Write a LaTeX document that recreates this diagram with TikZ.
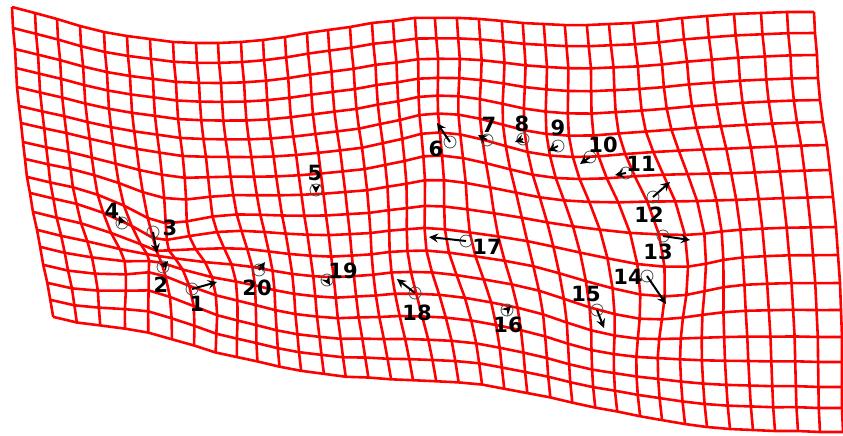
\documentclass[tikz,border=0pt]{standalone}
\usepackage{fontspec}
\setsansfont{DejaVu Sans}

% boundary of the warped grid, sampled at the grid nodes
\def\Tx{{12,35,57,80,104,127,150,173,196,218,241,263,285,307,328,350,372,393,415,435,457,479,502,523,544,565,587,609,633,657,682,707,734,761,787,814}}
\def\Ty{{7,13,19,26,32,36,39,42,43,43,42,40,37,33,30,27,23,21,18,18,18,19,21,23,24,25,25,24,23,21,18,16,14,13,12,12}}
\def\Bx{{53,76,98,121,143,166,188,211,234,256,279,301,324,346,369,392,414,437,459,482,504,527,550,572,595,617,640,662,685,707,730,753,775,798,820,843}}
\def\By{{317,323,327,332,337,343,348,354,358,362,367,371,374,377,378,380,381,382,383,385,389,393,397,402,407,411,416,420,424,427,429,430,431,431,432,432}}
\def\Lx{{12,13,15,16,17,19,21,23,25,27,30,33,37,40,43,47,50,53}}
\def\Ly{{7,28,49,68,87,106,123,142,159,177,193,212,230,247,265,283,300,317}}
\def\Rx{{814,815,817,818,820,823,827,830,833,836,838,840,841,842,842,842,842,843}}
\def\Ry{{12,33,55,78,100,122,145,170,197,227,255,283,310,337,362,387,408,432}}

\begin{document}
\begin{tikzpicture}[x=0.5pt,y=-0.5pt,
    gridline/.style={red,line width=1.3pt,line join=round},
    lmk/.style={circle,draw=black!70,line width=0.4pt,inner sep=0pt,minimum size=6pt},
    vec/.style={-stealth,line width=1pt},
    lbl/.style={font=\sffamily\bfseries\fontsize{10.5}{12}\selectfont,inner sep=0pt}]
  \useasboundingbox (0,0) rectangle (843,435);
  % grid nodes: Coons patch of the boundary, pulled along the landmark vectors
  \foreach \i in {0,...,35} {
    \foreach \j in {0,...,17} {
      \pgfmathsetmacro\su{\i/35}
      \pgfmathsetmacro\tv{\j/17}
      \pgfmathsetmacro\tx{\Tx[\i]}
      \pgfmathsetmacro\ty{\Ty[\i]}
      \pgfmathsetmacro\bx{\Bx[\i]}
      \pgfmathsetmacro\by{\By[\i]}
      \pgfmathsetmacro\lx{\Lx[\j]}
      \pgfmathsetmacro\ly{\Ly[\j]}
      \pgfmathsetmacro\rx{\Rx[\j]}
      \pgfmathsetmacro\ry{\Ry[\j]}
      \pgfmathsetmacro\px{(1-\tv)*\tx+\tv*\bx+(1-\su)*\lx+\su*\rx-((1-\su)*(1-\tv)*12+\su*(1-\tv)*814+(1-\su)*\tv*53+\su*\tv*843)}
      \pgfmathsetmacro\py{(1-\tv)*\ty+\tv*\by+(1-\su)*\ly+\su*\ry-((1-\su)*(1-\tv)*7+\su*(1-\tv)*12+(1-\su)*\tv*317+\su*\tv*432)}
      \xdef\sx{0}\xdef\sy{0}
      \foreach \cx/\cy/\vx/\vy in {192/289/35/-7, 163/267/5/-6, 153/232/4/21,
          122/223/-3/-7, 450/142/-13/-19, 487/140/-9/-5, 523/139/-8/3,
          558/146/-10/5, 590/157/-10/7, 626/173/-11/2, 653/197/17/-15,
          663/236/27/4, 647/276/19/28, 597/310/7/18, 507/310/4/-4,
          466/241/-37/-4, 415/293/-18/-14, 259/270/6/-8} {
        \pgfmathsetmacro\w{0.45*exp(-min(((\px-\cx)/60)^2+((\py-\cy)/60)^2,15))}
        \pgfmathsetmacro\sx{\sx+\vx*\w}\global\let\sx\sx
        \pgfmathsetmacro\sy{\sy+\vy*\w}\global\let\sy\sy
      }
      \pgfmathsetmacro\px{\px+\sx}
      \pgfmathsetmacro\py{\py+\sy}
      \pgfmathsetmacro\q{((\px-157)/48)^2+((\py-255)/48)^2}
      \pgfmathsetmacro\f{1-0.72*exp(-min(\q,15))}
      \pgfmathsetmacro\px{157+(\px-157)*\f}
      \pgfmathsetmacro\py{255+(\py-255)*\f}
      \coordinate (n-\i-\j) at (\px,\py);
    }
  }
  \foreach \j in {0,...,17}
    \draw[gridline] (n-0-\j) \foreach \i in {1,...,35} { -- (n-\i-\j) };
  \foreach \i in {0,...,35}
    \draw[gridline] (n-\i-0) \foreach \j in {1,...,17} { -- (n-\i-\j) };
  % landmarks: number / circle / arrow tip / label
  \foreach \k/\cx/\cy/\ax/\ay/\nx/\ny in {
      1/192/289/217/282/197/304, 2/163/267/168/261/161/285,
      3/153/232/157/253/170/228, 4/122/223/119/216/112/211,
      5/316/190/316/193/315/173, 6/450/142/437/123/436/149,
      7/487/140/478/135/489/125, 8/523/139/515/142/522/124,
      9/558/146/548/151/558/128, 10/590/157/580/164/603/145,
      11/626/173/615/175/641/164, 12/653/197/670/182/649/215,
      13/663/236/690/240/658/252, 14/647/276/666/304/628/277,
      15/597/310/604/328/586/294, 16/507/310/511/306/508/325,
      17/466/241/429/237/487/247, 18/415/293/397/279/417/313,
      19/327/280/330/285/343/271, 20/259/270/265/262/257/288} {
    \node[lmk] (c\k) at (\cx,\cy) {};
    \coordinate (t\k) at (\ax,\ay);
    \draw[vec] (c\k.center) -- (t\k);
    \node[lbl] (l\k) at (\nx,\ny) {\k};
  }
\end{tikzpicture}
\end{document}
